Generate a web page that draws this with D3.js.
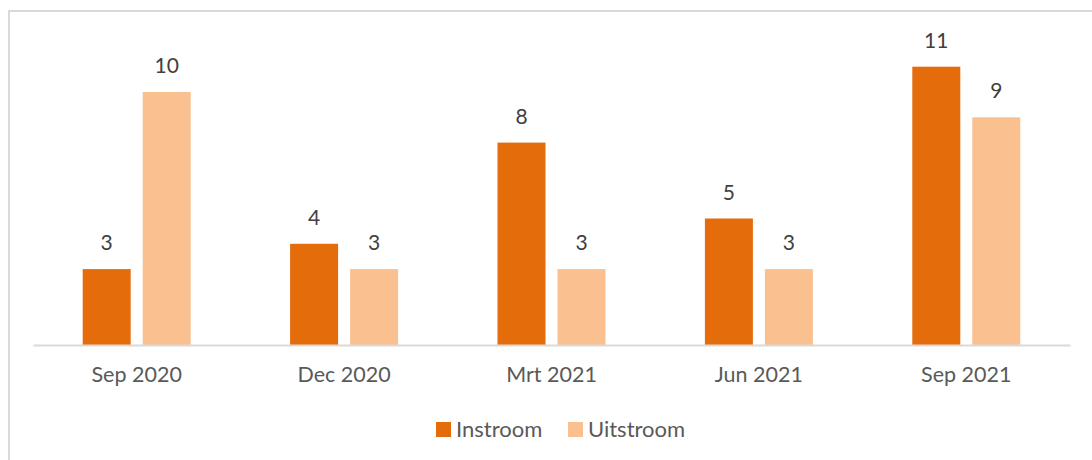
<!DOCTYPE html>
<html>
<head>
<meta charset="utf-8">
<script src="https://cdn.jsdelivr.net/npm/d3@7"></script>
<style>
  body { margin: 0; background: #fff; }
  svg text { font-family: Lato, "Open Sans", sans-serif; }
</style>
</head>
<body>
<div id="chart"></div>
<script>
const categories = ['Sep 2020', 'Dec 2020', 'Mrt 2021', 'Jun 2021', 'Sep 2021'];
const seriesNames = ['Instroom', 'Uitstroom'];
const instroom = [3, 4, 8, 5, 11];
const uitstroom = [10, 3, 3, 3, 9];
const colors = ['#E46C0A', '#FAC090'];

const width = 1092, height = 460;

const svg = d3.select('#chart')
    .append('svg')
    .attr('width', width)
    .attr('height', height);

// chart frame (right and bottom edges fall outside the picture)
svg.append('rect')
    .attr('x', 9)
    .attr('y', 11)
    .attr('width', 1100)
    .attr('height', 470)
    .attr('fill', 'none')
    .attr('stroke', '#D9D9D9')
    .attr('stroke-width', 2);

const x = d3.scaleBand()
    .domain(categories)
    .range([33, 1070]);

const y = d3.scaleLinear()
    .domain([0, 10])
    .range([345, 92]);

const inner = d3.scaleBand()
    .domain(seriesNames)
    .range([0, 108])
    .paddingInner(0.2);

const groupOffset = (x.bandwidth() - 108) / 2;

const rows = categories.map((c, i) => ({
    cat: c,
    vals: [
        { name: seriesNames[0], value: instroom[i], color: colors[0] },
        { name: seriesNames[1], value: uitstroom[i], color: colors[1] }
    ]
}));

const groups = svg.selectAll('.grp')
    .data(rows)
    .enter()
    .append('g')
    .attr('class', 'grp')
    .attr('transform', d => `translate(${x(d.cat) + groupOffset},0)`);

groups.selectAll('rect')
    .data(d => d.vals)
    .enter()
    .append('rect')
    .attr('x', d => inner(d.name))
    .attr('y', d => y(d.value))
    .attr('width', inner.bandwidth())
    .attr('height', d => y(0) - y(d.value))
    .attr('fill', d => d.color);

groups.selectAll('.val')
    .data(d => d.vals)
    .enter()
    .append('text')
    .attr('class', 'val')
    .attr('x', d => inner(d.name) + inner.bandwidth() / 2)
    .attr('y', d => y(d.value) - 19)
    .attr('text-anchor', 'middle')
    .style('font-size', '21px')
    .attr('fill', '#404040')
    .text(d => d.value);

// x axis
const xAxis = svg.append('g')
    .attr('transform', `translate(0,${y(0)})`)
    .call(d3.axisBottom(x).tickSize(0).tickPadding(0));
xAxis.select('.domain').attr('stroke', '#D9D9D9').attr('stroke-width', 2);
xAxis.selectAll('text')
    .attr('dy', 0)
    .attr('y', 37)
    .style('font-size', '21.5px')
    .attr('fill', '#595959');

// legend
const legendX = [436, 568];
const legend = svg.append('g').attr('class', 'legend');
const items = legend.selectAll('.legend-item')
    .data(seriesNames)
    .enter()
    .append('g')
    .attr('class', 'legend-item')
    .attr('transform', (d, i) => `translate(${legendX[i]},422)`);

items.append('rect')
    .attr('width', 15)
    .attr('height', 15)
    .attr('fill', (d, i) => colors[i]);

items.append('text')
    .attr('x', 20)
    .attr('y', 14.5)
    .style('font-size', '22px')
    .attr('fill', '#595959')
    .text(d => d);
</script>
</body>
</html>
